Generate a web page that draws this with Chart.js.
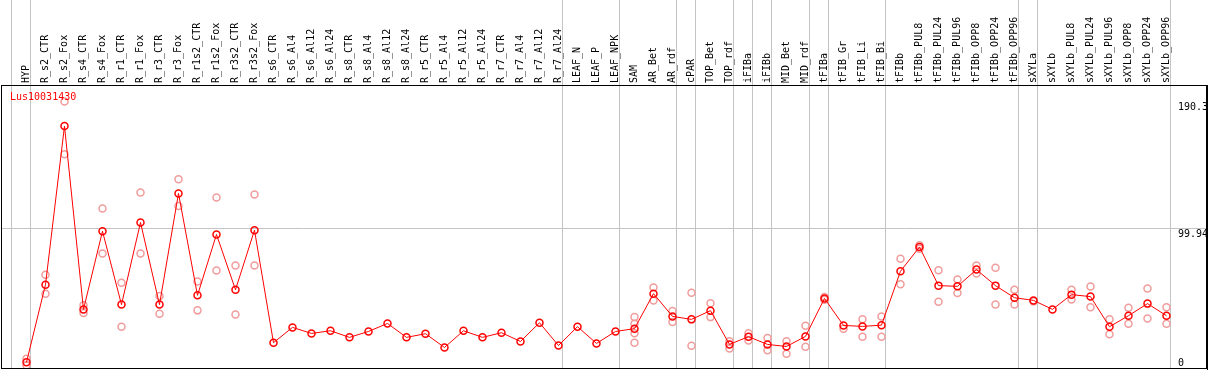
<!DOCTYPE html>
<html>
<head>
<meta charset="utf-8">
<script src="https://cdn.jsdelivr.net/npm/chart.js@4/dist/chart.umd.min.js"></script>
<style>
  body { margin: 0; background: #fff; }
</style>
</head>
<body>
<canvas id="myChart" width="1209" height="370"></canvas>
<script>
var labels = ['HYP', 'R_s2_CTR', 'R_s2_Fox', 'R_s4_CTR', 'R_s4_Fox', 'R_r1_CTR', 'R_r1_Fox', 'R_r3_CTR', 'R_r3_Fox',
  'R_r1s2_CTR', 'R_r1s2_Fox', 'R_r3s2_CTR', 'R_r3s2_Fox', 'R_s6_CTR', 'R_s6_Al4', 'R_s6_Al12', 'R_s6_Al24',
  'R_s8_CTR', 'R_s8_Al4', 'R_s8_Al12', 'R_s8_Al24', 'R_r5_CTR', 'R_r5_Al4', 'R_r5_Al12', 'R_r5_Al24',
  'R_r7_CTR', 'R_r7_Al4', 'R_r7_Al12', 'R_r7_Al24', 'LEAF_N', 'LEAF_P', 'LEAF_NPK', 'SAM', 'AR_Bet', 'AR_rdf',
  'cPAR', 'TOP_Bet', 'TOP_rdf', 'iFIBa', 'iFIBb', 'MID_Bet', 'MID_rdf', 'tFIBa', 'tFIB_Gr', 'tFIB_Li', 'tFIB_Bi',
  'tFIBb', 'tFIBb_PUL8', 'tFIBb_PUL24', 'tFIBb_PUL96', 'tFIBb_OPP8', 'tFIBb_OPP24', 'tFIBb_OPP96',
  'sXYLa', 'sXYLb', 'sXYLb_PUL8', 'sXYLb_PUL24', 'sXYLb_PUL96', 'sXYLb_OPP8', 'sXYLb_OPP24', 'sXYLb_OPP96'];

// mean expression
var means = [4.8, 60.0, 172.8, 42.4, 98.0, 45.8, 104.2, 45.8, 124.9, 52.4, 95.7, 56.4, 98.7,
  18.7, 29.6, 25.3, 27.2, 22.5, 26.7, 32.4, 22.5, 25.1, 15.3, 27.2, 22.5, 25.8, 19.6, 32.9, 16.7,
  30.1, 18.2, 26.7, 28.7, 53.6, 37.4, 35.3, 41.5, 17.5, 23.0, 17.5, 16.0, 23.2, 50.2, 31.0, 30.3, 31.2,
  69.5, 86.8, 59.3, 58.8, 70.7, 59.3, 50.7, 48.8, 42.4, 52.9, 51.5, 30.1, 37.9, 46.5, 37.9];

// replicates
var rep1 = [7.3, 67.1, 190.3, 45.3, 114.2, 61.4, 125.6, 51.9, 134.9, 62.2, 122.0, 73.6, 124.2,
  null, null, null, null, null, null, null, null, null, null, null, null, null, null, null, null,
  null, null, null, 36.9, 57.9, 41.2, 54.3, 46.7, 19.8, 25.5, 22.0, 19.8, 30.8, 51.2, null, 35.3, 37.4,
  78.5, 88.0, 70.2, 63.6, 73.6, 72.1, 56.4, 48.1, null, 56.4, 58.6, 35.3, 43.6, 57.2, 44.0];
var rep2 = [2.5, 53.6, 152.7, 39.8, 82.1, 30.1, 82.1, 39.3, 116.0, 41.7, 70.0, 38.8, 73.6,
  null, null, null, null, null, null, null, null, null, null, null, null, null, null, null, null,
  null, null, null, 18.7, 48.8, 33.4, 16.5, 36.9, 14.6, 20.3, 13.4, 10.8, 15.8, 49.3, 28.7, 23.0, 23.0,
  60.2, 85.6, 47.9, 54.0, 67.9, 45.8, 45.8, null, null, 49.5, 44.0, 24.8, 32.2, 36.0, 32.2];
var rep3 = [];
var rep4 = [];
rep3[32] = 32.2;
rep4[32] = 25.5;

var yTicks = [0, 99.94, 190.3];
var separators = [-1, 0, 28, 31, 34, 35, 37, 38, 39, 41, 42, 45, 52, 53, 60];
var geneName = 'Lus10031430';

var mono = 'DejaVu Sans Mono';
var pale = '#f09c9c';

function pts(arr) {
  var out = [];
  for (var i = 0; i < labels.length; i++) {
    if (arr[i] != null) out.push({ x: i, y: arr[i] });
  }
  return out;
}

function repSet(arr) {
  return {
    data: pts(arr),
    showLine: false,
    pointStyle: 'circle',
    pointRadius: 3.5,
    pointBorderWidth: 1.5,
    pointBorderColor: pale,
    pointBackgroundColor: 'transparent',
    order: 2
  };
}

// no extra room for overhanging tick labels
function noPad(s) {
  s.paddingLeft = 0;
  s.paddingRight = 0;
  s.paddingTop = 0;
  s.paddingBottom = 0;
}

var framePlugin = {
  id: 'frame',
  afterDraw: function (chart) {
    var a = chart.chartArea;
    var ctx = chart.ctx;
    ctx.save();
    ctx.strokeStyle = '#000';
    ctx.lineWidth = 1;
    ctx.strokeRect(a.left + 0.5, a.top + 0.5, a.right - a.left - 1, a.bottom - a.top - 1);
    ctx.fillStyle = '#ff0000';
    ctx.font = '10px "' + mono + '"';
    ctx.textBaseline = 'middle';
    ctx.fillText(geneName, a.left + 9, a.top + 12);
    ctx.restore();
  }
};

renderChart();
function renderChart() {
  var existingChart = Chart.getChart('myChart');
  if (existingChart) {
    existingChart.destroy();
  }
  new Chart('myChart', {
    type: 'line',
    data: {
      datasets: [
        {
          data: pts(means),
          borderColor: '#ff0000',
          borderWidth: 1,
          tension: 0,
          fill: false,
          pointStyle: 'circle',
          pointRadius: 3.5,
          pointBorderWidth: 1.5,
          pointBorderColor: '#ff0000',
          pointBackgroundColor: 'transparent',
          order: 0
        },
        repSet(rep1), repSet(rep2), repSet(rep3), repSet(rep4)
      ]
    },
    options: {
      responsive: false,
      animation: false,
      layout: { autoPadding: false, padding: { left: 1, right: 0, top: 0, bottom: 1 } },
      plugins: { legend: { display: false }, tooltip: { enabled: false } },
      scales: {
        x: {
          type: 'linear',
          position: 'top',
          weight: 1,
          min: -1.342,
          max: 62.132,
          afterBuildTicks: function (s) {
            s.ticks = labels.map(function (_, i) { return { value: i }; });
          },
          afterFit: function (s) { s.height = 85; noPad(s); },
          grid: { display: false, drawTicks: false },
          border: { display: false },
          ticks: {
            autoSkip: false,
            minRotation: 90,
            maxRotation: 90,
            padding: 2,
            labelOffset: 12,
            color: '#000',
            font: { family: mono, size: 10 },
            callback: function (v) { return labels[v]; }
          }
        },
        xSep: {
          type: 'linear',
          position: 'top',
          weight: 0,
          min: -1.342,
          max: 62.132,
          afterBuildTicks: function (s) {
            s.ticks = separators.map(function (v) { return { value: v + 0.21 }; });
          },
          afterFit: function (s) { s.height = 0; noPad(s); },
          grid: { display: true, color: '#c4c4c4', lineWidth: 1, drawTicks: true, tickLength: 85 },
          border: { display: false },
          ticks: { display: false }
        },
        y: {
          position: 'right',
          min: 0,
          max: 202,
          afterBuildTicks: function (s) {
            s.ticks = yTicks.map(function (v) { return { value: v }; });
          },
          afterFit: function (s) { s.width = 2; noPad(s); },
          grid: {
            drawTicks: false,
            color: function (c) { return c.tick && c.tick.value === 99.94 ? '#c4c4c4' : 'rgba(0,0,0,0)'; }
          },
          border: { display: true, color: '#000' },
          ticks: {
            mirror: true,
            crossAlign: 'far',
            padding: 1,
            color: '#000',
            font: { family: mono, size: 10 },
            callback: function (v) { return v === 0 ? ['0', ''] : ['', String(v)]; }
          }
        }
      }
    },
    plugins: [framePlugin]
  });
}
</script>
</body>
</html>
